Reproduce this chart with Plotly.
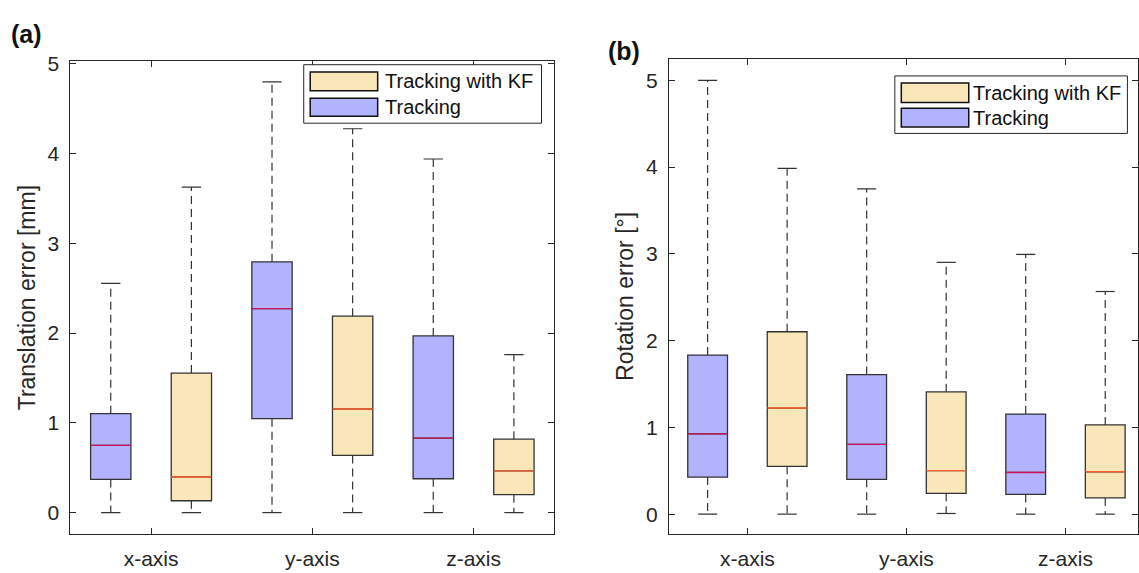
import plotly.graph_objects as go

W, H = 1139, 573

categories = ["x-axis", "y-axis", "z-axis"]
group_pos = [1, 2, 3]

# (a) Translation error [mm]
trans_track_low = [0.0, 0.0, 0.0]
trans_track_q1 = [0.369, 1.046, 0.377]
trans_track_med = [0.749, 2.273, 0.830]
trans_track_q3 = [1.102, 2.794, 1.968]
trans_track_up = [2.553, 4.800, 3.940]

trans_kf_low = [0.0, 0.0, 0.0]
trans_kf_q1 = [0.132, 0.637, 0.200]
trans_kf_med = [0.397, 1.154, 0.465]
trans_kf_q3 = [1.555, 2.188, 0.818]
trans_kf_up = [3.627, 4.277, 1.760]

# (b) Rotation error [deg]
rot_track_low = [0.0, 0.0, 0.0]
rot_track_q1 = [0.427, 0.402, 0.228]
rot_track_med = [0.925, 0.804, 0.481]
rot_track_q3 = [1.833, 1.609, 1.153]
rot_track_up = [5.000, 3.748, 2.993]

rot_kf_low = [0.0, 0.008, 0.0]
rot_kf_q1 = [0.551, 0.240, 0.187]
rot_kf_med = [1.223, 0.502, 0.489]
rot_kf_q3 = [2.102, 1.410, 1.028]
rot_kf_up = [3.984, 2.902, 2.566]

TRACK_FILL = "rgb(178,178,255)"
KF_FILL = "rgb(249,231,186)"
TRACK_MED = "rgb(205,20,90)"
KF_MED = "rgb(255,95,45)"
EDGE = "#333333"
AX = "#262626"
FONT = "Liberation Sans, Arial, sans-serif"

OFFSET = 0.25
BOXW = 0.25
CAPW = 0.06

fig = go.Figure()


def add_series(low, q1, med, q3, up, offset, fill, medcol, xa, ya):
    pos = [g + offset for g in group_pos]
    wx, wy, cx, cy, mx, my = [], [], [], [], [], []
    for p, lo, a, m, b, hi in zip(pos, low, q1, med, q3, up):
        wx += [p, p, None, p, p, None]
        wy += [b, hi, None, a, lo, None]
        cx += [p - CAPW, p + CAPW, None, p - CAPW, p + CAPW, None]
        cy += [hi, hi, None, lo, lo, None]
        mx += [p - BOXW / 2, p + BOXW / 2, None]
        my += [m, m, None]
    fig.add_trace(go.Scatter(x=wx, y=wy, mode="lines", xaxis=xa, yaxis=ya,
                             line=dict(color=EDGE, width=1.2, dash="8px,5px"),
                             showlegend=False, hoverinfo="skip"))
    fig.add_trace(go.Scatter(x=cx, y=cy, mode="lines", xaxis=xa, yaxis=ya,
                             line=dict(color=EDGE, width=1.2),
                             showlegend=False, hoverinfo="skip"))
    fig.add_trace(go.Box(x=pos, q1=q1, median=med, q3=q3,
                         lowerfence=q1, upperfence=q3, width=BOXW,
                         fillcolor=fill, line=dict(color=EDGE, width=1.3),
                         whiskerwidth=0, boxpoints=False, xaxis=xa, yaxis=ya,
                         showlegend=False, hoverinfo="skip"))
    fig.add_trace(go.Scatter(x=mx, y=my, mode="lines", xaxis=xa, yaxis=ya,
                             line=dict(color=medcol, width=1.4),
                             showlegend=False, hoverinfo="skip"))


add_series(trans_track_low, trans_track_q1, trans_track_med, trans_track_q3, trans_track_up,
           -OFFSET, TRACK_FILL, TRACK_MED, "x", "y")
add_series(trans_kf_low, trans_kf_q1, trans_kf_med, trans_kf_q3, trans_kf_up,
           OFFSET, KF_FILL, KF_MED, "x", "y")
add_series(rot_track_low, rot_track_q1, rot_track_med, rot_track_q3, rot_track_up,
           -OFFSET, TRACK_FILL, TRACK_MED, "x2", "y2")
add_series(rot_kf_low, rot_kf_q1, rot_kf_med, rot_kf_q3, rot_kf_up,
           OFFSET, KF_FILL, KF_MED, "x2", "y2")


def px(x):
    return x / W


def py(y):
    return 1 - y / H


axis_common = dict(showline=True, linecolor=AX, linewidth=1, mirror="allticks",
                   ticks="inside", ticklen=6, tickcolor=AX, showgrid=False,
                   zeroline=False, tickfont=dict(family=FONT, size=21, color=AX))

fig.update_layout(
    width=W, height=H, margin=dict(l=0, r=0, t=0, b=0),
    paper_bgcolor="white", plot_bgcolor="white", boxmode="overlay",
    font=dict(family=FONT, color=AX),
    xaxis=dict(domain=[px(70.5), px(554.7)], range=[0.5, 3.5], anchor="y",
               tickvals=group_pos, ticktext=categories, ticklabelstandoff=6,
               **axis_common),
    yaxis=dict(domain=[py(533.5), py(53)], range=[-0.24, 5.03], anchor="x",
               tick0=0, dtick=1, ticklabelstandoff=6,
               title=dict(text="Translation error [mm]", standoff=5,
                          font=dict(family=FONT, size=23, color=AX)),
               **axis_common),
    xaxis2=dict(domain=[px(669.4), 1.0], range=[0.506, 3.456], anchor="y2",
                tickvals=group_pos, ticktext=categories, ticklabelstandoff=6,
                **axis_common),
    yaxis2=dict(domain=[py(533.5), py(50.4)], range=[-0.23, 5.25], anchor="x2",
                tick0=0, dtick=1, ticklabelstandoff=6,
                title=dict(text="Rotation error [°]", standoff=5,
                           font=dict(family=FONT, size=23, color=AX)),
                **axis_common),
)

shapes = []
annotations = []


def legend(box, p1, p2, tx, t1, t2):
    shapes.append(dict(type="rect", xref="paper", yref="paper",
                       x0=px(box[0]), x1=px(box[1]), y0=py(box[3]), y1=py(box[2]),
                       line=dict(color=AX, width=1), fillcolor="white", layer="above"))
    for (y0, y1), fill, name, ty in [(p1, KF_FILL, "Tracking with KF", t1),
                                     (p2, TRACK_FILL, "Tracking", t2)]:
        shapes.append(dict(type="rect", xref="paper", yref="paper",
                           x0=px(box[0] + 6.5), x1=px(box[0] + 74), y0=py(y1), y1=py(y0),
                           line=dict(color="#111", width=1.5), fillcolor=fill, layer="above"))
        annotations.append(dict(xref="paper", yref="paper", x=px(tx), y=py(ty),
                                xanchor="left", yanchor="middle", showarrow=False,
                                text=name, font=dict(family=FONT, size=20, color="#111")))


legend((304, 542, 56.6, 116), (64, 83), (90.6, 108.9), 383, 73.5, 99.7)
legend((895.6, 1128.4, 68, 126.4), (75.3, 95), (100.9, 119.9), 972, 85, 110.4)

annotations.append(dict(xref="paper", yref="paper", x=px(9), y=py(25.6), xanchor="left",
                        yanchor="middle", showarrow=False, text="<b>(a)</b>",
                        font=dict(family=FONT, size=25, color="#111")))
annotations.append(dict(xref="paper", yref="paper", x=px(607), y=py(43), xanchor="left",
                        yanchor="middle", showarrow=False, text="<b>(b)</b>",
                        font=dict(family=FONT, size=25, color="#111")))

fig.update_layout(shapes=shapes, annotations=annotations)

fig.write_html("out.html")
